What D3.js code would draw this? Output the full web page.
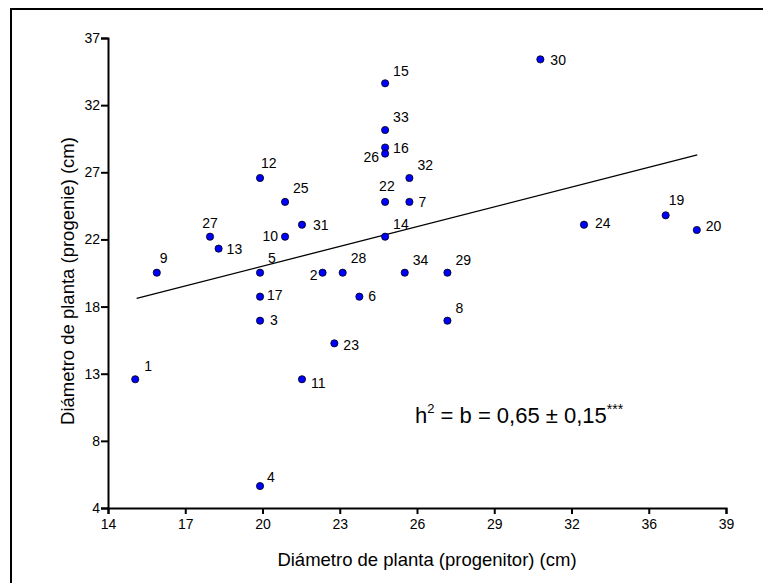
<!DOCTYPE html>
<html>
<head>
<meta charset="utf-8">
<script src="https://cdn.jsdelivr.net/npm/d3@7"></script>
<style>
  html, body { margin: 0; background: #fff; overflow: hidden; }
  svg { display: block; }
  text { font-family: "Liberation Sans", Arial, sans-serif; fill: #000; }
</style>
</head>
<body>
<div class="chart"></div>
<script>
// plant ids, progenitor diameter (x) and progeny diameter (y), in cm
const ids = [1, 2, 3, 4, 5, 6, 7, 8, 9, 10, 11, 12, 13, 14, 15, 16, 17, 19, 20, 22, 23, 24, 25, 26, 27, 28, 29, 30, 31, 32, 33, 34];
const progenitor = [15.11, 22.75, 20.20, 20.20, 20.20, 24.25, 26.29, 27.84, 15.99, 21.22, 21.91, 20.20, 18.51, 25.30, 25.30, 25.30, 20.20, 36.74, 38.01, 25.30, 23.23, 33.41, 21.22, 25.30, 18.16, 23.57, 27.84, 31.63, 21.91, 26.29, 25.30, 26.10];
const progenie = [13.04, 20.52, 17.15, 5.54, 20.52, 18.84, 25.49, 17.15, 20.52, 23.05, 13.04, 27.17, 22.21, 23.05, 33.82, 29.31, 18.84, 24.55, 23.52, 25.49, 15.56, 23.89, 25.49, 28.88, 23.05, 20.52, 20.52, 35.50, 23.89, 27.17, 30.54, 20.52];

// regression line end points
const lineX = [15.17, 38.03];
const lineY = [18.72, 28.79];

// tick labels (evenly spaced on the axes)
const xTickLabels = ['14', '17', '20', '23', '26', '29', '32', '36', '39'];
const yTickLabels = ['4', '8', '13', '18', '22', '27', '32', '37'];

// where each point label sits: [dx, dy, anchor]
const labelPos = {
  1: [9, -8, 'start'], 2: [-5, 7, 'end'], 3: [10, 4, 'start'], 4: [7, -4, 'start'],
  5: [8, -10, 'start'], 6: [9, 4, 'start'], 7: [9, 5, 'start'], 8: [8, -8, 'start'],
  9: [3, -10, 'start'], 10: [-7, 4, 'end'], 11: [9, 9, 'start'], 12: [1, -10, 'start'],
  13: [8, 5, 'start'], 14: [8, -8, 'start'], 15: [8, -7, 'start'], 16: [8, 5, 'start'],
  17: [7, 3, 'start'], 19: [3, -10, 'start'], 20: [9, 1, 'start'], 22: [-6, -11, 'start'],
  23: [9, 7, 'start'], 24: [11, 3, 'start'], 25: [8, -9, 'start'], 26: [-6, 8, 'end'],
  27: [0, -9, 'middle'], 28: [8, -10, 'start'], 29: [8, -8, 'start'], 30: [10, 6, 'start'],
  31: [11, 5, 'start'], 32: [8, -8, 'start'], 33: [8, -8, 'start'], 34: [8, -8, 'start']
};

const width = 763;
const height = 583;

const svg = d3.select('.chart')
  .append('svg')
  .attr('width', width)
  .attr('height', height);

svg.append('rect')
  .attr('width', width)
  .attr('height', height)
  .attr('fill', '#fff');

// outer frame: only left and top edges show, the rest is cut off
svg.append('path')
  .attr('d', `M11,${height} V9 H${width}`)
  .attr('fill', 'none')
  .attr('stroke', '#000')
  .attr('stroke-width', 2);

const x = d3.scaleLinear().domain([14, 39.2]).range([108, 726]);
const y = d3.scaleLinear().domain([4, 37]).range([508, 38]);

const xTickVals = xTickLabels.map((d, i) => 14 + i * (39.2 - 14) / (xTickLabels.length - 1));
const yTickVals = yTickLabels.map((d, i) => 4 + i * (37 - 4) / (yTickLabels.length - 1));

const xAxis = svg.append('g')
  .attr('transform', `translate(0,${y(4)})`)
  .call(d3.axisBottom(x)
    .tickValues(xTickVals)
    .tickFormat((d, i) => xTickLabels[i])
    .tickSizeOuter(0)
    .tickSize(6)
    .tickPadding(5));

const yAxis = svg.append('g')
  .attr('transform', `translate(${x(14)},0)`)
  .call(d3.axisLeft(y)
    .tickValues(yTickVals)
    .tickFormat((d, i) => yTickLabels[i])
    .tickSizeOuter(0)
    .tickSize(7)
    .tickPadding(1));

[xAxis, yAxis].forEach(g => {
  g.select('.domain').attr('stroke-width', 2);
  g.selectAll('.tick line').attr('stroke-width', 2);
  g.selectAll('.tick text')
    .attr('font-size', 14)
    .attr('font-family', '"Liberation Sans", Arial, sans-serif');
});

// regression line
svg.append('line')
  .attr('x1', x(lineX[0]))
  .attr('y1', y(lineY[0]))
  .attr('x2', x(lineX[1]))
  .attr('y2', y(lineY[1]))
  .attr('stroke', '#000')
  .attr('stroke-width', 1.3);

const pts = ids.map((id, i) => ({id: id, px: progenitor[i], py: progenie[i]}));

svg.selectAll('circle')
  .data(pts)
  .enter()
  .append('circle')
  .attr('cx', d => x(d.px))
  .attr('cy', d => y(d.py))
  .attr('r', 3.6)
  .attr('fill', '#0000ff')
  .attr('stroke', '#000')
  .attr('stroke-width', 0.8);

svg.selectAll('text.lab')
  .data(pts)
  .enter()
  .append('text')
  .attr('class', 'lab')
  .attr('x', d => x(d.px) + labelPos[d.id][0])
  .attr('y', d => y(d.py) + labelPos[d.id][1])
  .attr('text-anchor', d => labelPos[d.id][2])
  .attr('font-size', 14)
  .text(d => d.id);

// axis titles
svg.append('text')
  .attr('x', 427)
  .attr('y', 566)
  .attr('text-anchor', 'middle')
  .attr('font-size', 18.5)
  .text('Diámetro de planta (progenitor) (cm)');

svg.append('text')
  .attr('transform', 'translate(74,281) rotate(-90)')
  .attr('text-anchor', 'middle')
  .attr('font-size', 18.5)
  .text('Diámetro de planta (progenie) (cm)');

// heritability annotation
const eq = svg.append('text')
  .attr('x', 415)
  .attr('y', 423)
  .attr('font-size', 22);
eq.append('tspan').text('h');
eq.append('tspan').attr('font-size', 13).attr('dy', -10).text('2');
eq.append('tspan').attr('dy', 10).text(' = b = 0,65 ± 0,15');
eq.append('tspan').attr('font-size', 14).attr('dy', -9).text('***');
</script>
</body>
</html>
